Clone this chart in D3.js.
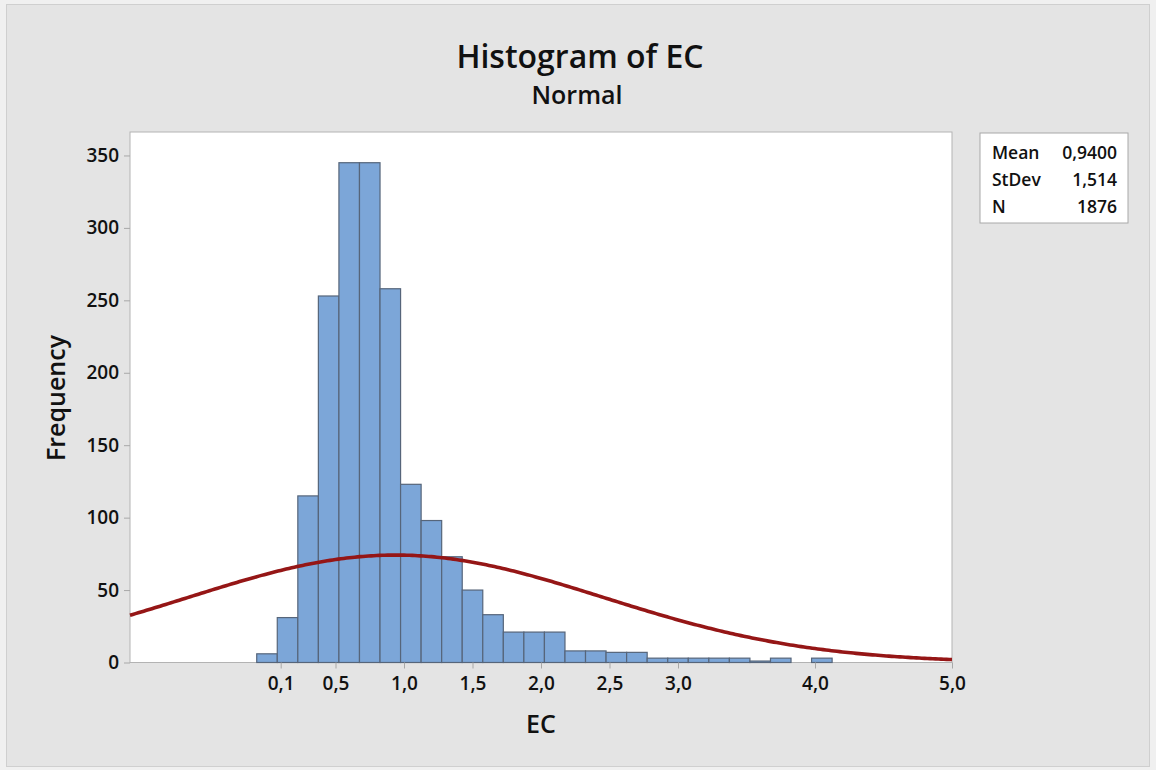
<!doctype html>
<meta charset=utf8>
<title>Histogram of EC</title>
<style>
  html, body {
    margin: 0;
    background: #f0f0f0;
  }
  svg {
    display: block;
    font-family: "Open Sans", "Noto Sans", sans-serif;
  }
  .frame {
    fill: #e4e4e4;
    stroke: #cfcfcf;
  }
  .bar {
    fill: #7ca6d8;
    stroke: #56657a;
    stroke-width: 1.2;
  }
  .fit {
    fill: none;
    stroke: #951616;
    stroke-width: 3.6;
  }
  .axis path { display: none }
  .axis line { stroke: #a8a8a8 }
  .axis text {
    font-family: "Open Sans", "Noto Sans", sans-serif;
    font-size: 19px;
    font-weight: 600;
    fill: #111;
  }
  .lbl {
    font-weight: 600;
    fill: #111;
  }
</style>
<svg width=1156 height=770></svg>
<script src=https://d3js.org/d3.v7.min.js></script>
<script>
  // bin counts, bins 0.15 wide starting at -0.075
  var binStart = -0.075;
  var binWidth = 0.15;
  var counts = [6, 31, 115, 253, 345, 345, 258, 123, 98, 73, 50, 33, 21, 21, 21,
    8, 8, 7, 7, 3, 3, 3, 3, 3, 1, 3, 0, 3];

  var xTicks = [0.1, 0.5, 1.0, 1.5, 2.0, 2.5, 3.0, 4.0, 5.0];
  var yTicks = [0, 50, 100, 150, 200, 250, 300, 350];

  var statNames = ['Mean', 'StDev', 'N'];
  var statValues = ['0,9400', '1,514', '1876'];
  var mean = 0.94, sd = 1.514, n = 1876;

  var svg = d3.select('svg');
  var plotL = 130, plotR = 952, plotT = 132, plotB = 662.5;

  svg.append('rect').attr('class', 'frame')
    .attr('x', 6.5).attr('y', 4.5).attr('width', 1143).attr('height', 762);

  var x = d3.scaleLinear().domain([-1, 5]).range([plotL, plotR]);
  var y = d3.scaleLinear().domain([0, 366.2]).range([plotB, plotT]);

  svg.append('rect')
    .attr('x', plotL).attr('y', plotT)
    .attr('width', plotR - plotL).attr('height', plotB - plotT)
    .attr('fill', 'white').attr('stroke', '#b3b3b3');

  var bins = counts.map(function(c, i) {
    return {x0: binStart + i * binWidth, x1: binStart + (i + 1) * binWidth, n: c};
  }).filter(function(d) { return d.n > 0; });

  svg.append('g').selectAll('rect')
    .data(bins)
    .enter()
    .append('rect')
    .attr('class', 'bar')
    .attr('x', function(d) { return x(d.x0); })
    .attr('width', function(d) { return x(d.x1) - x(d.x0); })
    .attr('y', function(d) { return y(d.n); })
    .attr('height', function(d) { return y(0) - y(d.n); });

  // fitted normal curve scaled to counts
  function fit(v) {
    var z = (v - mean) / sd;
    return n * binWidth / (sd * Math.sqrt(2 * Math.PI)) * Math.exp(-z * z / 2);
  }
  var xs = d3.range(-1, 5.0001, 0.02);
  svg.append('path')
    .attr('class', 'fit')
    .attr('d', d3.line()
      .x(function(v) { return x(v); })
      .y(function(v) { return y(fit(v)); })(xs));

  // axes
  var fmt = function(v) { return d3.format('.1f')(v).replace('.', ','); };
  svg.append('g').attr('class', 'axis')
    .attr('transform', 'translate(0,' + plotB + ')')
    .call(d3.axisBottom(x).tickValues(xTicks).tickFormat(fmt).tickSize(6).tickPadding(8));
  svg.append('g').attr('class', 'axis')
    .attr('transform', 'translate(' + plotL + ',0)')
    .call(d3.axisLeft(y).tickValues(yTicks).tickSize(6).tickPadding(5));

  // titles
  svg.append('text').attr('class', 'lbl')
    .attr('x', 580).attr('y', 68).attr('text-anchor', 'middle')
    .style('font-size', '32px').text('Histogram of EC');
  svg.append('text').attr('class', 'lbl')
    .attr('x', 577).attr('y', 104).attr('text-anchor', 'middle')
    .style('font-size', '25px').text('Normal');
  svg.append('text').attr('class', 'lbl')
    .attr('x', 541).attr('y', 733).attr('text-anchor', 'middle')
    .style('font-size', '25px').text('EC');
  svg.append('text').attr('class', 'lbl')
    .attr('transform', 'translate(65,398) rotate(-90)')
    .attr('text-anchor', 'middle')
    .style('font-size', '25px').text('Frequency');

  // stats box
  var box = svg.append('g').attr('transform', 'translate(980,133)');
  box.append('rect')
    .attr('width', 148).attr('height', 90)
    .attr('fill', 'white').attr('stroke', '#a8a8a8');
  box.selectAll('.sn')
    .data(statNames)
    .enter()
    .append('text')
    .attr('class', 'lbl')
    .attr('x', 12)
    .attr('y', function(d, i) { return 26 + i * 27; })
    .style('font-size', '17.5px')
    .text(function(d) { return d; });
  box.selectAll('.sv')
    .data(statValues)
    .enter()
    .append('text')
    .attr('class', 'lbl')
    .attr('x', 137)
    .attr('y', function(d, i) { return 26 + i * 27; })
    .attr('text-anchor', 'end')
    .style('font-size', '17.5px')
    .text(function(d) { return d; });
</script>
